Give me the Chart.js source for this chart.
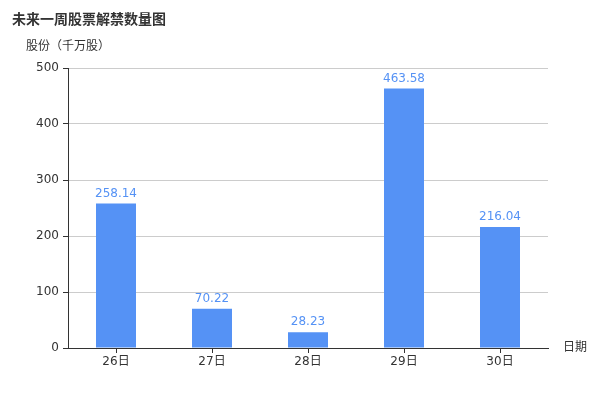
<!DOCTYPE html>
<html>
<head>
<meta charset="utf-8">
<script src="https://cdn.jsdelivr.net/npm/chart.js@4/dist/chart.umd.min.js"></script>
<style>
  html, body { margin: 0; padding: 0; background: #fff; }
  #wrap { width: 600px; height: 400px; position: relative; }
</style>
</head>
<body>
<div id="wrap"><canvas id="lockupChart" width="600" height="400"></canvas></div>
<script>
// データ
const days = ['26日', '27日', '28日', '29日', '30日'];
const shares = [258.14, 70.22, 28.23, 463.58, 216.04];
const yTicks = [0, 100, 200, 300, 400, 500];

const FONT = '"DejaVu Sans", "Noto Sans CJK SC", sans-serif';
const BAR_COLOR = '#5592f5';

// タイトル・軸名・数値ラベル
const decoPlugin = {
    id: 'deco',
    afterDatasetsDraw(chart) {
        const ctx = chart.ctx;
        const meta = chart.getDatasetMeta(0);
        ctx.save();
        ctx.fillStyle = BAR_COLOR;
        ctx.font = '12px ' + FONT;
        ctx.textAlign = 'center';
        ctx.textBaseline = 'bottom';
        meta.data.forEach((bar, i) => {
            ctx.fillText(shares[i].toFixed(2), bar.x, bar.y - 4);
        });

        ctx.fillStyle = '#333';
        ctx.textAlign = 'left';
        ctx.textBaseline = 'middle';
        ctx.font = 'bold 14px ' + FONT;
        ctx.fillText('未来一周股票解禁数量图', 12, 20);
        ctx.font = '12px ' + FONT;
        ctx.fillText('股份（千万股）', 26, 47);
        ctx.fillText('日期', 563, 348);
        ctx.restore();
    }
};

const ctx = document.getElementById('lockupChart').getContext('2d');
const lockupChart = new Chart(ctx, {
    type: 'bar',
    data: {
        labels: days,
        datasets: [{
            data: shares,
            backgroundColor: BAR_COLOR,
            borderWidth: 0,
            barPercentage: 40 / 96,
            categoryPercentage: 1
        }]
    },
    options: {
        responsive: false,
        animation: false,
        layout: { padding: { top: 68, right: 52, left: 0, bottom: 0 } },
        plugins: {
            legend: { display: false },
            tooltip: { enabled: false }
        },
        scales: {
            x: {
                afterFit(scale) { scale.height = 52; },
                grid: {
                    offset: false,
                    drawOnChartArea: false,
                    drawTicks: true,
                    tickLength: 5,
                    tickColor: '#333'
                },
                border: { color: '#333', width: 1 },
                ticks: {
                    color: '#333',
                    font: { family: FONT, size: 12 },
                    padding: 2,
                    maxRotation: 0
                }
            },
            y: {
                min: 0,
                max: 500,
                afterFit(scale) { scale.width = 68; },
                afterBuildTicks(scale) {
                    scale.ticks = yTicks.map(v => ({ value: v }));
                },
                grid: {
                    color: '#cccccc',
                    tickColor: '#333',
                    tickLength: 5,
                    drawTicks: true
                },
                border: { color: '#333', width: 1 },
                ticks: {
                    color: '#333',
                    font: { family: FONT, size: 12 },
                    padding: 4
                }
            }
        }
    },
    plugins: [decoPlugin]
});
</script>
</body>
</html>
